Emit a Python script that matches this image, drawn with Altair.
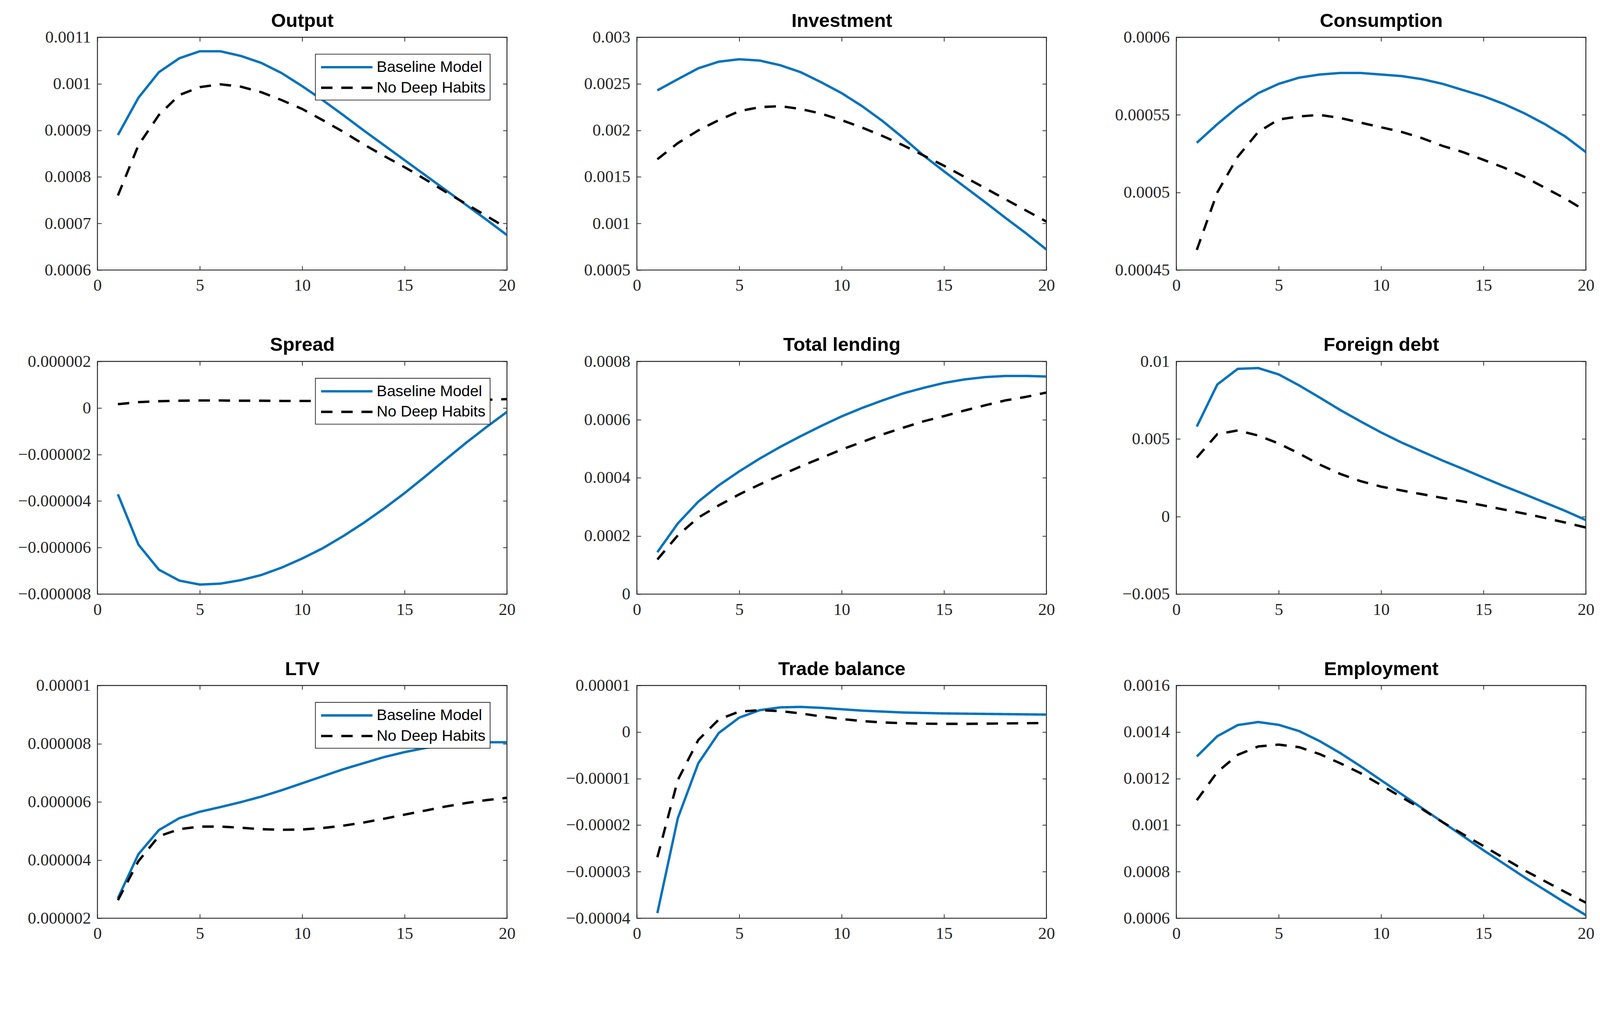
import altair as alt
import pandas as pd

periods = list(range(1, 21))
series_names = ["Baseline Model", "No Deep Habits"]
x_ticks = [0, 5, 10, 15, 20]

output_base = [0.00089, 0.00097, 0.001025, 0.001055, 0.00107, 0.00107, 0.00106, 0.001045, 0.001023, 0.000995,
               0.000965, 0.000933, 0.0009, 0.000868, 0.000836, 0.000804, 0.000772, 0.00074, 0.000708, 0.000675]
output_nodh = [0.00076, 0.000868, 0.000933, 0.000976, 0.000993, 0.000999, 0.000994, 0.000982, 0.000965, 0.000946,
               0.000922, 0.000897, 0.00087, 0.000845, 0.000821, 0.000795, 0.000768, 0.000742, 0.000716, 0.00069]

invest_base = [0.00243, 0.00255, 0.002667, 0.002738, 0.002764, 0.00275, 0.0027, 0.002625, 0.002517, 0.0024,
               0.00226, 0.0021, 0.00192, 0.00173, 0.00156, 0.001395, 0.00123, 0.00106, 0.000895, 0.00072]
invest_nodh = [0.00169, 0.001863, 0.002, 0.00211, 0.002206, 0.00225, 0.00226, 0.00223, 0.00218, 0.00211,
               0.00203, 0.00194, 0.00184, 0.00173, 0.00162, 0.0015, 0.00138, 0.00126, 0.00114, 0.00102]

cons_base = [0.000532, 0.000544, 0.000555, 0.000564, 0.00057, 0.000574, 0.000576, 0.000577, 0.000577, 0.000576,
             0.000575, 0.000573, 0.00057, 0.000566, 0.000562, 0.000557, 0.000551, 0.000544, 0.000536, 0.000526]
cons_nodh = [0.000463, 0.0005, 0.000523, 0.000539, 0.000547, 0.000549, 0.00055, 0.000548, 0.000545, 0.000542,
             0.000539, 0.000535, 0.00053, 0.000526, 0.000521, 0.000516, 0.00051, 0.000503, 0.000496, 0.000488]

spread_base = [-3.71e-6, -5.87e-6, -6.95e-6, -7.42e-6, -7.59e-6, -7.55e-6, -7.4e-6, -7.18e-6, -6.86e-6, -6.47e-6,
               -6.03e-6, -5.51e-6, -4.94e-6, -4.32e-6, -3.66e-6, -2.95e-6, -2.22e-6, -1.5e-6, -0.82e-6, -0.17e-6]
spread_nodh = [0.16e-6, 0.25e-6, 0.29e-6, 0.31e-6, 0.32e-6, 0.32e-6, 0.31e-6, 0.31e-6, 0.3e-6, 0.3e-6,
               0.3e-6, 0.3e-6, 0.3e-6, 0.3e-6, 0.31e-6, 0.31e-6, 0.32e-6, 0.33e-6, 0.35e-6, 0.38e-6]

lend_base = [0.000144, 0.000243, 0.000318, 0.000374, 0.000422, 0.000466, 0.000506, 0.000543, 0.000578, 0.000611,
             0.00064, 0.000666, 0.00069, 0.000709, 0.000726, 0.000738, 0.000746, 0.00075, 0.00075, 0.000748]
lend_nodh = [0.000119, 0.000202, 0.000263, 0.000305, 0.000343, 0.000377, 0.000408, 0.000439, 0.000468, 0.000497,
             0.000523, 0.000549, 0.000572, 0.000594, 0.000612, 0.000631, 0.000649, 0.000666, 0.000678, 0.000693]

debt_base = [0.0058, 0.00851, 0.00952, 0.00957, 0.00916, 0.00845, 0.00767, 0.00687, 0.00613, 0.00542,
             0.00477, 0.00419, 0.00361, 0.00307, 0.00251, 0.00196, 0.00144, 0.0009, 0.00036, -0.00023]
debt_nodh = [0.0038, 0.00531, 0.00555, 0.00522, 0.00471, 0.00406, 0.00335, 0.00275, 0.00228, 0.00193,
             0.00168, 0.00144, 0.0012, 0.00097, 0.00071, 0.00045, 0.00019, -0.00009, -0.00039, -0.00071]

ltv_base = [2.69e-6, 4.2e-6, 5.03e-6, 5.44e-6, 5.66e-6, 5.82e-6, 5.99e-6, 6.18e-6, 6.4e-6, 6.64e-6,
            6.88e-6, 7.12e-6, 7.33e-6, 7.54e-6, 7.71e-6, 7.85e-6, 7.95e-6, 8.02e-6, 8.05e-6, 8.05e-6]
ltv_nodh = [2.62e-6, 3.96e-6, 4.82e-6, 5.06e-6, 5.15e-6, 5.15e-6, 5.11e-6, 5.06e-6, 5.04e-6, 5.05e-6,
            5.1e-6, 5.18e-6, 5.29e-6, 5.42e-6, 5.56e-6, 5.7e-6, 5.84e-6, 5.96e-6, 6.06e-6, 6.14e-6]

trade_base = [-3.89e-5, -1.85e-5, -0.67e-5, -0.02e-5, 0.31e-5, 0.47e-5, 0.53e-5, 0.54e-5, 0.52e-5, 0.49e-5,
              0.46e-5, 0.44e-5, 0.42e-5, 0.41e-5, 0.40e-5, 0.395e-5, 0.39e-5, 0.385e-5, 0.38e-5, 0.375e-5]
trade_nodh = [-2.69e-5, -1.03e-5, -0.17e-5, 0.27e-5, 0.44e-5, 0.47e-5, 0.45e-5, 0.40e-5, 0.335e-5, 0.28e-5,
              0.236e-5, 0.206e-5, 0.19e-5, 0.18e-5, 0.176e-5, 0.176e-5, 0.18e-5, 0.185e-5, 0.19e-5, 0.193e-5]

emp_base = [0.001295, 0.001382, 0.00143, 0.001443, 0.001431, 0.001404, 0.001361, 0.00131, 0.001253, 0.001193,
            0.001133, 0.001073, 0.001013, 0.000953, 0.000892, 0.000834, 0.000776, 0.000721, 0.000666, 0.000613]
emp_nodh = [0.001107, 0.001228, 0.001302, 0.001338, 0.001346, 0.001335, 0.001305, 0.001266, 0.001223, 0.001172,
            0.00112, 0.001069, 0.001013, 0.000961, 0.00091, 0.000858, 0.000806, 0.000759, 0.000712, 0.000667]

panel_titles = ["Output", "Investment", "Consumption", "Spread", "Total lending", "Foreign debt",
                "LTV", "Trade balance", "Employment"]
panel_base = [output_base, invest_base, cons_base, spread_base, lend_base, debt_base, ltv_base, trade_base, emp_base]
panel_nodh = [output_nodh, invest_nodh, cons_nodh, spread_nodh, lend_nodh, debt_nodh, ltv_nodh, trade_nodh, emp_nodh]
panel_domains = [[0.0006, 0.0011], [0.0005, 0.003], [0.00045, 0.0006], [-0.000008, 0.000002], [0.0, 0.0008],
                 [-0.005, 0.01], [0.000002, 0.00001], [-0.00004, 0.00001], [0.0006, 0.0016]]
panel_ticks = [
    [0.0006, 0.0007, 0.0008, 0.0009, 0.001, 0.0011],
    [0.0005, 0.001, 0.0015, 0.002, 0.0025, 0.003],
    [0.00045, 0.0005, 0.00055, 0.0006],
    [-0.000008, -0.000006, -0.000004, -0.000002, 0.0, 0.000002],
    [0.0, 0.0002, 0.0004, 0.0006, 0.0008],
    [-0.005, 0.0, 0.005, 0.01],
    [0.000002, 0.000004, 0.000006, 0.000008, 0.00001],
    [-0.00004, -0.00003, -0.00002, -0.00001, 0.0, 0.00001],
    [0.0006, 0.0008, 0.001, 0.0012, 0.0014, 0.0016],
]
panel_formats = [".4~f", ".4~f", ".5~f", ".6~f", ".4~f", ".3~f", ".6~f", ".5~f", ".4~f"]
panel_legend = [True, False, False, True, False, False, True, False, False]

AX = "#262626"
TICK = 11


def make_panel(title, base, nodh, dom, ticks, fmt, show_legend):
    df = pd.DataFrame({
        "period": periods + periods,
        "value": base + nodh,
        "series": [series_names[0]] * len(periods) + [series_names[1]] * len(periods),
    })
    xs = alt.Scale(domain=[0, 20], nice=False, zero=False)
    ys = alt.Scale(domain=dom, nice=False, zero=False)
    if show_legend:
        leg = alt.Legend(
            title=None, orient="top-right", offset=46,
            symbolType="M-1,0H6", symbolSize=1600, symbolStrokeWidth=6.5,
            labelOffset=108, labelFont="Liberation Sans", labelFontSize=42, labelColor="black",
            labelLimit=800,
            padding=12, rowPadding=11, fillColor="white", strokeColor=AX, cornerRadius=0,
        )
    else:
        leg = None
    lines = alt.Chart(df).mark_line(strokeWidth=6.5, clip=True).encode(
        x=alt.X("period:Q", scale=xs, axis=alt.Axis(
            values=x_ticks, orient="bottom", offset=-TICK, tickSize=TICK, domain=False, title=None,
            labelFont="Liberation Serif", labelFontSize=46, labelColor=AX, labelPadding=20,
            tickColor=AX, tickWidth=2, labelFlush=False, labelOverlap=False, format="d",
            labelLimit=400)),
        y=alt.Y("value:Q", scale=ys, axis=alt.Axis(
            values=ticks, format=fmt, orient="left", offset=-TICK, tickSize=TICK, domain=False, title=None,
            labelFont="Liberation Serif", labelFontSize=46, labelColor=AX, labelPadding=18,
            tickColor=AX, tickWidth=2, labelFlush=False, labelOverlap=False, labelLimit=400)),
        color=alt.Color("series:N", scale=alt.Scale(domain=series_names, range=["#0072BD", "#000000"]),
                        legend=leg),
        strokeDash=alt.StrokeDash("series:N", scale=alt.Scale(domain=series_names, range=[[1, 0], [31, 24]]),
                                  legend=leg),
    )
    mirror = alt.Chart(df).mark_line(opacity=0, clip=True).encode(
        x=alt.X("period:Q", scale=xs, axis=alt.Axis(
            values=x_ticks, orient="top", offset=-TICK, tickSize=TICK, domain=False,
            title=title, titleFont="Liberation Sans", titleFontSize=52, titleFontWeight="bold",
            titleColor="black", titlePadding=18,
            labels=False, tickColor=AX, tickWidth=2, minExtent=0, maxExtent=TICK)),
        y=alt.Y("value:Q", scale=ys, axis=alt.Axis(
            values=ticks, orient="right", offset=-TICK, tickSize=TICK, domain=False, title=None,
            labels=False, tickColor=AX, tickWidth=2, minExtent=0, maxExtent=TICK)),
    )
    return alt.layer(lines, mirror).resolve_axis(x="independent", y="independent").properties(
        width=1116, height=634,
    )


panels = [
    make_panel(panel_titles[i], panel_base[i], panel_nodh[i], panel_domains[i], panel_ticks[i],
               panel_formats[i], panel_legend[i])
    for i in range(len(panel_titles))
]

chart = alt.concat(*panels, columns=3, spacing={"row": 249, "column": 354}, bounds="flush").resolve_scale(
    color="independent", strokeDash="independent"
).resolve_legend(
    color="independent", strokeDash="independent"
).configure_axis(grid=False).configure_view(stroke=AX, strokeWidth=2.5).configure_legend(
    strokeWidth=2
).properties(
    padding={"left": 39, "top": -60, "right": 5, "bottom": 5}, background="white"
)

chart.save("out.html", embed_options={"renderer": "svg", "actions": False})
